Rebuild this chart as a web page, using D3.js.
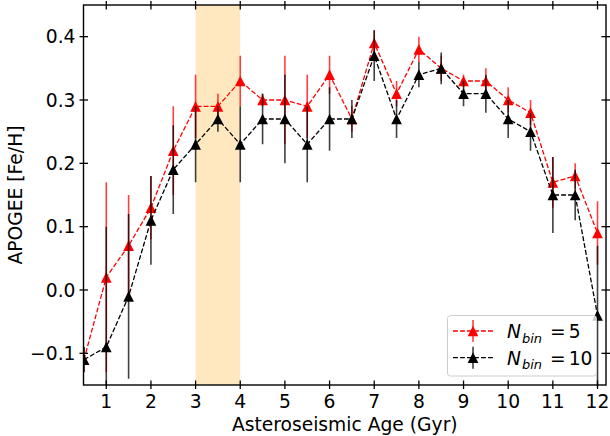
<!DOCTYPE html>
<html>
<head>
<meta charset="utf-8">
<script src="https://cdn.jsdelivr.net/npm/d3@7"></script>
<style>
body { margin: 0; background: #fff; }
text { font-family: "DejaVu Sans", sans-serif; }
</style>
</head>
<body>
<svg id="chart" width="610" height="436"></svg>
<script>
var ages = [0.5, 1, 1.5, 2, 2.5, 3, 3.5, 4, 4.5, 5, 5.5, 6, 6.5, 7, 7.5, 8, 8.5, 9, 9.5, 10, 10.5, 11, 11.5, 12];
var feh5 = [-0.11, 0.02, 0.07, 0.13, 0.22, 0.29, 0.29, 0.33, 0.30, 0.30, 0.29, 0.34, 0.27, 0.39, 0.31, 0.38, 0.35, 0.33, 0.33, 0.30, 0.28, 0.17, 0.18, 0.09];
var err5 = [0.02, 0.15, 0.08, 0.05, 0.07, 0.05, 0.02, 0.04, 0.01, 0.07, 0.05, 0.03, 0.02, 0.02, 0.02, 0.02, 0.02, 0.01, 0.02, 0.02, 0.02, 0.04, 0.02, 0.05];
var feh10 = [-0.11, -0.09, -0.01, 0.11, 0.19, 0.23, 0.27, 0.23, 0.27, 0.27, 0.23, 0.27, 0.27, 0.37, 0.27, 0.34, 0.35, 0.31, 0.31, 0.27, 0.25, 0.15, 0.15, -0.04];
var err10 = [0.02, 0.19, 0.13, 0.07, 0.07, 0.06, 0.02, 0.06, 0.04, 0.07, 0.06, 0.05, 0.03, 0.04, 0.03, 0.02, 0.025, 0.02, 0.03, 0.03, 0.03, 0.06, 0.04, 0.11];
var xTicks = [1, 2, 3, 4, 5, 6, 7, 8, 9, 10, 11, 12];
var yTicks = [-0.1, 0.0, 0.1, 0.2, 0.3, 0.4];
var band = [3, 4];

var pLeft = 83.5, pRight = 606, pTop = 5, pBottom = 385;

var xScale = d3.scaleLinear()
    .domain([0.49, 12.19])
    .range([pLeft, pRight]);

var yScale = d3.scaleLinear()
    .domain([-0.15, 0.45])
    .range([pBottom, pTop]);

var svg = d3.select("#chart");

svg.append("clipPath")
    .attr("id", "plotclip")
    .append("rect")
    .attr("x", pLeft)
    .attr("y", pTop)
    .attr("width", pRight - pLeft)
    .attr("height", pBottom - pTop);

var plot = svg.append("g").attr("clip-path", "url(#plotclip)");

// shaded age range
plot.append("rect")
    .attr("x", xScale(band[0]))
    .attr("y", pTop)
    .attr("width", xScale(band[1]) - xScale(band[0]))
    .attr("height", pBottom - pTop)
    .attr("fill", "#ffe8bf");

var triangle = function(s) {
    var h = s / 2;
    return "M0," + (-h) + "L" + h + "," + h + "L" + (-h) + "," + h + "Z";
};

var drawSeries = function(vals, errs, color) {
    var data = ages.map(function(a, i) { return {x: a, y: vals[i], e: errs[i]}; });

    plot.append("g")
        .selectAll("line")
        .data(data)
        .enter()
        .append("line")
        .attr("x1", function(d) { return xScale(d.x); })
        .attr("x2", function(d) { return xScale(d.x); })
        .attr("y1", function(d) { return yScale(d.y - d.e); })
        .attr("y2", function(d) { return yScale(d.y + d.e); })
        .attr("stroke", color)
        .attr("stroke-opacity", 0.75)
        .attr("stroke-width", 1.6);

    var line = d3.line()
        .x(function(d) { return xScale(d.x); })
        .y(function(d) { return yScale(d.y); });

    plot.append("path")
        .datum(data)
        .attr("d", line)
        .attr("fill", "none")
        .attr("stroke", color)
        .attr("stroke-width", 1.3)
        .attr("stroke-dasharray", "4.9,2.1");

    plot.append("g")
        .selectAll("path")
        .data(data)
        .enter()
        .append("path")
        .attr("d", triangle(10.7))
        .attr("transform", function(d) { return "translate(" + xScale(d.x) + "," + yScale(d.y) + ")"; })
        .attr("fill", color);
};

drawSeries(feh5, err5, "red");
drawSeries(feh10, err10, "black");

// ticks on all four sides, crossing the frame
var axes = svg.append("g");
axes.selectAll(".xt")
    .data(xTicks)
    .enter()
    .append("g")
    .each(function(t) {
        var g = d3.select(this);
        var px = xScale(t);
        g.append("line").attr("x1", px).attr("x2", px).attr("y1", pBottom - 4.5).attr("y2", pBottom + 4);
        g.append("line").attr("x1", px).attr("x2", px).attr("y1", pTop - 4).attr("y2", pTop + 4.5);
        g.append("text")
            .attr("x", px)
            .attr("y", pBottom + 23)
            .attr("text-anchor", "middle")
            .attr("font-size", "18.7px")
            .text(t);
    });

axes.selectAll(".yt")
    .data(yTicks)
    .enter()
    .append("g")
    .each(function(t) {
        var g = d3.select(this);
        var py = yScale(t);
        g.append("line").attr("x1", pLeft - 4).attr("x2", pLeft + 4.5).attr("y1", py).attr("y2", py);
        g.append("line").attr("x1", pRight - 4.5).attr("x2", pRight + 4).attr("y1", py).attr("y2", py);
        g.append("text")
            .attr("x", pLeft - 8)
            .attr("y", py)
            .attr("dy", "0.36em")
            .attr("text-anchor", "end")
            .attr("font-size", "18.7px")
            .text(d3.format(".1f")(t).replace("-", "\u2212"));
    });

axes.selectAll("line")
    .attr("stroke", "black")
    .attr("stroke-width", 1.3);

svg.append("rect")
    .attr("x", pLeft)
    .attr("y", pTop)
    .attr("width", pRight - pLeft)
    .attr("height", pBottom - pTop)
    .attr("fill", "none")
    .attr("stroke", "black")
    .attr("stroke-width", 1.4);

svg.append("text")
    .attr("x", (pLeft + pRight) / 2)
    .attr("y", 431)
    .attr("text-anchor", "middle")
    .attr("font-size", "18.7px")
    .text("Asteroseismic Age (Gyr)");

svg.append("text")
    .attr("transform", "translate(21.5," + ((pTop + pBottom) / 2) + ") rotate(-90)")
    .attr("text-anchor", "middle")
    .attr("font-size", "18.7px")
    .text("APOGEE [Fe/H]");

// legend
var legendItems = [
    {color: "red", n: "5"},
    {color: "black", n: "10"}
];

var legend = svg.append("g");
legend.append("rect")
    .attr("x", 447.5)
    .attr("y", 315.5)
    .attr("width", 149)
    .attr("height", 60.5)
    .attr("rx", 3)
    .attr("fill", "white")
    .attr("fill-opacity", 0.8)
    .attr("stroke", "#cccccc")
    .attr("stroke-width", 1);

legendItems.forEach(function(item, i) {
    var ly = 331 + i * 26.7;
    legend.append("line")
        .attr("x1", 453).attr("x2", 493)
        .attr("y1", ly).attr("y2", ly)
        .attr("stroke", item.color)
        .attr("stroke-width", 1.3)
        .attr("stroke-dasharray", "4.9,2.1");
    legend.append("line")
        .attr("x1", 473).attr("x2", 473)
        .attr("y1", ly - 11).attr("y2", ly + 11)
        .attr("stroke", item.color)
        .attr("stroke-opacity", 0.75)
        .attr("stroke-width", 1.6);
    legend.append("path")
        .attr("d", triangle(10.7))
        .attr("transform", "translate(473," + ly + ")")
        .attr("fill", item.color);
    var t = legend.append("text")
        .attr("x", 507)
        .attr("y", ly + 7)
        .attr("font-size", "18.7px");
    t.append("tspan").attr("font-style", "italic").text("N");
    t.append("tspan").attr("font-style", "italic").attr("font-size", "13px").attr("dx", 1).attr("dy", 4.5).text("bin");
    t.append("tspan").attr("x", 550).attr("dy", -4.5).text("=");
    t.append("tspan").attr("dx", 3).text(item.n);
});
</script>
</body>
</html>
